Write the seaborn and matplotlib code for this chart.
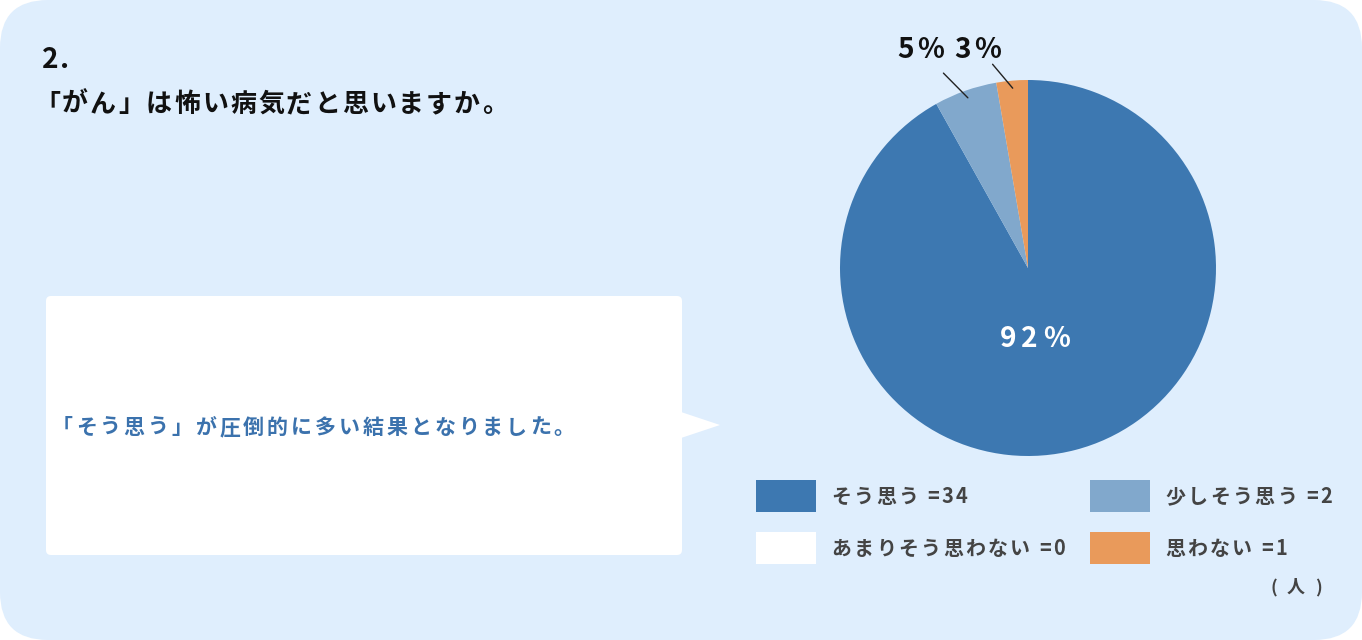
import matplotlib
matplotlib.use("Agg")
import numpy as np
import matplotlib.pyplot as plt
import seaborn as sns
from matplotlib import font_manager
from matplotlib.font_manager import FontProperties
from matplotlib.patches import FancyBboxPatch, Polygon, Rectangle

W, H, DPI = 1362, 640, 100

# ---------------------------------------------------------------------------
# data
# ---------------------------------------------------------------------------
categories = ["そう思う", "少しそう思う", "あまりそう思わない", "思わない"]
counts = [34, 2, 0, 1]
unit_label = "( 人 )"
title_num = "2."
question = "「がん」は怖い病気だと思いますか。"
comment = "「そう思う」が圧倒的に多い結果となりました。"

palette_hex = ["#3d78b1", "#81a8cc", "#ffffff", "#e99a5b"]
BG = "#dfeefd"
TEXT_DARK = "#111111"
TEXT_LEGEND = "#444444"
TEXT_BLUE = "#3b72ad"

sns.set_theme(style="white")
JP = ["Noto Sans CJK JP", "DejaVu Sans"]
plt.rcParams["font.family"] = JP
palette = sns.color_palette(palette_hex)

fig = plt.figure(figsize=(W / DPI, H / DPI), dpi=DPI)
fig.patch.set_facecolor("white")

# full-figure axes in pixel coordinates (y down)
ax = fig.add_axes([0, 0, 1, 1])
ax.set_xlim(0, W)
ax.set_ylim(H, 0)
ax.axis("off")


def glyph_advance(ch, px, weight):
    fp = FontProperties(family="Noto Sans CJK JP", weight=weight)
    font = font_manager.get_font(font_manager.findfont(fp))
    font.set_size(px * 72 / DPI, DPI)
    return font.load_char(ord(ch)).linearHoriAdvance / 65536


def spaced_text(x, y, s, px, color, track=0.0, weight="bold", ha="left", target=None):
    # text with letter-spacing, one glyph at a time, y = baseline (pixel coords)
    target = target or ax
    adv = [glyph_advance(ch, px, weight) for ch in s]
    total = sum(adv) + track * (len(s) - 1)
    if ha == "center":
        x -= total / 2
    pen = x
    for ch, a in zip(s, adv):
        if not ch.isspace():
            target.text(pen, y, ch, fontsize=px * 72 / DPI, color=color, fontweight=weight,
                        ha="left", va="baseline", family=JP, transform=ax.transData,
                        zorder=5)
        pen += a + track


# background panel + speech bubble
ax.add_patch(FancyBboxPatch((0, 0), W, H, boxstyle="round,pad=0,rounding_size=48",
                            fc=BG, ec="none"))
ax.add_patch(FancyBboxPatch((46, 296), 636, 259, boxstyle="round,pad=0,rounding_size=5",
                            fc="white", ec="none"))
ax.add_patch(Polygon([[681, 412], [720, 425], [681, 438]], closed=True, fc="white", ec="none"))

# headings
spaced_text(42, 68, title_num, 28, TEXT_DARK, track=1)
spaced_text(34, 112, question, 26, TEXT_DARK, track=2)
spaced_text(52, 434, comment, 21, TEXT_BLUE, track=2.9)

# ---------------------------------------------------------------------------
# pie
# ---------------------------------------------------------------------------
ax_pie = fig.add_axes([840 / W, (H - 456) / H, 376 / W, 376 / H])
wedges, _ = ax_pie.pie(counts, colors=palette, startangle=90, counterclock=False,
                       wedgeprops=dict(linewidth=0, edgecolor="none"))
ax_pie.set_xlim(-1, 1)
ax_pie.set_ylim(-1, 1)
ax_pie.set_aspect("equal")


def pie_to_px(r, ang):
    a = np.deg2rad(ang)
    pt = ax_pie.transData.transform((r * np.cos(a), r * np.sin(a)))
    return ax.transData.inverted().transform(pt)


total = sum(counts)
pcts = [round(c / total * 100) for c in counts]
callouts = {1: (1.13, 4, 1.30, 6.5), 3: (1.10, 5, 1.20, 8)}
PCT_PX = 28
for i, w in enumerate(wedges):
    if counts[i] == 0:
        continue
    mid = (w.theta1 + w.theta2) / 2
    label = f"{pcts[i]}%"
    if i in callouts:
        r1, a1, r2, a2 = callouts[i]
        p0 = pie_to_px(0.96, mid)
        p1 = pie_to_px(r1, mid + a1)
        ax_pie.plot([p0[0], p1[0]], [p0[1], p1[1]], color="#222222", lw=1,
                    transform=ax.transData, clip_on=False, zorder=4)
        tx, ty = pie_to_px(r2, mid + a2)
        spaced_text(tx, ty + 0.36 * PCT_PX, label, PCT_PX, TEXT_DARK, track=3.5,
                    ha="center", target=ax_pie)
    else:
        tx, ty = pie_to_px(0.37, mid - 9)
        spaced_text(tx, ty + 0.36 * PCT_PX, label, PCT_PX, "white", track=5,
                    ha="center", target=ax_pie)

# ---------------------------------------------------------------------------
# legend
# ---------------------------------------------------------------------------
col_x = [756, 1090]
row_y = [480, 532]
for i, (cat, n) in enumerate(zip(categories, counts)):
    bx, by = col_x[i % 2], row_y[i // 2]
    ax.add_patch(Rectangle((bx, by), 60, 32, fc=palette[i], ec="none"))
    spaced_text(bx + 75, by + 23, f"{cat} ={n}", 20, TEXT_LEGEND, track=2.4)

spaced_text(1270, 593, unit_label, 18, TEXT_LEGEND, track=3)

fig.savefig("out.png", dpi=DPI, facecolor=fig.get_facecolor())
